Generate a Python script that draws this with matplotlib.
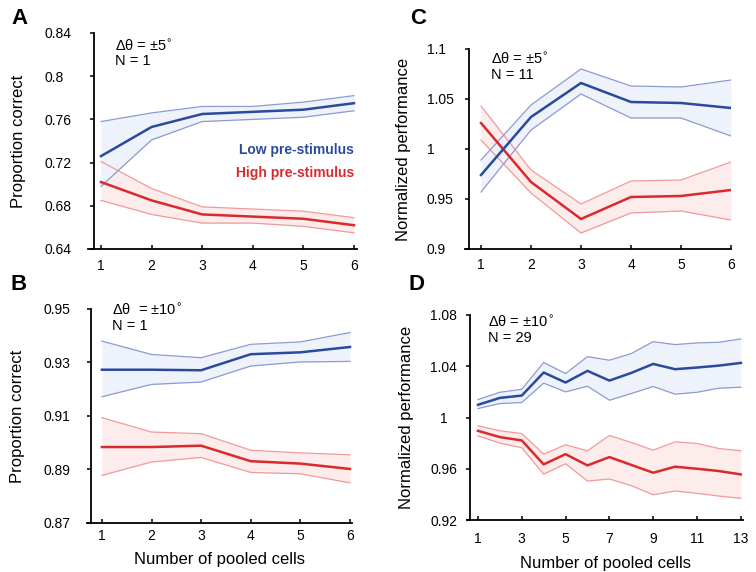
import numpy as np
import matplotlib
matplotlib.use("Agg")
import matplotlib.pyplot as plt

plt.rcParams['font.family'] = ['Liberation Sans', 'DejaVu Sans']

BLUE = '#2a4a9c'
RED = '#d92a2e'
BLUE_EDGE = '#8c9bd0'
RED_EDGE = '#f29a9a'
BLUE_FILL = '#eef2fa'
RED_FILL = '#fdecec'

# panel A: delta theta = +-5, N = 1
x_a = [1, 2, 3, 4, 5, 6]
a_low = [0.726, 0.753, 0.765, 0.767, 0.769, 0.775]
a_low_hi = [0.758, 0.766, 0.772, 0.772, 0.776, 0.782]
a_low_lo = [0.698, 0.741, 0.758, 0.760, 0.762, 0.768]
a_high = [0.702, 0.685, 0.672, 0.670, 0.668, 0.662]
a_high_hi = [0.721, 0.696, 0.679, 0.677, 0.675, 0.669]
a_high_lo = [0.685, 0.672, 0.664, 0.664, 0.661, 0.655]

# panel B: delta theta = +-10, N = 1
x_b = [1, 2, 3, 4, 5, 6]
b_low = [0.9273, 0.9273, 0.9271, 0.9331, 0.9338, 0.9358]
b_low_hi = [0.9380, 0.9330, 0.9318, 0.9368, 0.9377, 0.9412]
b_low_lo = [0.9172, 0.9218, 0.9227, 0.9287, 0.9302, 0.9304]
b_high = [0.8984, 0.8984, 0.8989, 0.8931, 0.8922, 0.8902]
b_high_hi = [0.9094, 0.9040, 0.9034, 0.8972, 0.8962, 0.8955]
b_high_lo = [0.8878, 0.8928, 0.8945, 0.8889, 0.8884, 0.8850]

# panel C: delta theta = +-5, N = 11
x_c = [1, 2, 3, 4, 5, 6]
c_low = [0.974, 1.032, 1.066, 1.047, 1.046, 1.041]
c_low_hi = [0.989, 1.044, 1.080, 1.063, 1.062, 1.069]
c_low_lo = [0.957, 1.019, 1.055, 1.031, 1.031, 1.013]
c_high = [1.026, 0.967, 0.930, 0.952, 0.953, 0.959]
c_high_hi = [1.043, 0.979, 0.945, 0.968, 0.969, 0.987]
c_high_lo = [1.009, 0.956, 0.916, 0.936, 0.938, 0.929]

# panel D: delta theta = +-10, N = 29
x_d = list(range(1, 14))
d_low = [1.0099, 1.0153, 1.0171, 1.0351, 1.0273, 1.0364, 1.0288, 1.0348, 1.0418, 1.0377, 1.0390, 1.0405, 1.0426]
d_low_hi = [1.0140, 1.0197, 1.0220, 1.0429, 1.0343, 1.0475, 1.0447, 1.0499, 1.0592, 1.0569, 1.0582, 1.0587, 1.0613]
d_low_lo = [1.0070, 1.0109, 1.0117, 1.0268, 1.0200, 1.0244, 1.0135, 1.0187, 1.0242, 1.0182, 1.0197, 1.0229, 1.0236]
d_high = [0.9896, 0.9847, 0.9821, 0.9634, 0.9714, 0.9626, 0.9691, 0.9630, 0.9569, 0.9616, 0.9600, 0.9582, 0.9556]
d_high_hi = [0.9935, 0.9896, 0.9875, 0.9714, 0.9787, 0.9740, 0.9860, 0.9805, 0.9745, 0.9810, 0.9797, 0.9758, 0.9740]
d_high_lo = [0.9857, 0.9800, 0.9764, 0.9558, 0.9639, 0.9504, 0.9520, 0.9468, 0.9397, 0.9426, 0.9408, 0.9387, 0.9369]

W, H = 756, 572
fig = plt.figure(figsize=(W / 100, H / 100), dpi=100)


def make_axes(l, r, t, b):
    return fig.add_axes([l / W, 1 - b / H, (r - l) / W, (b - t) / H])


def band(ax, x, mid, hi, lo, col, edge, fill):
    ax.fill_between(x, lo, hi, color=fill, lw=0, zorder=1)
    ax.plot(x, hi, color=edge, lw=0.9, zorder=2)
    ax.plot(x, lo, color=edge, lw=0.9, zorder=2)
    ax.plot(x, mid, color=col, lw=1.8, zorder=3)


panels = [
    dict(box=(88, 357, 33, 249), x=x_a, low=(a_low, a_low_hi, a_low_lo), high=(a_high, a_high_hi, a_high_lo),
         xlim=(0.743, 6.06), spine=0.862, ylim=(0.64, 0.84),
         yticks=[0.64, 0.68, 0.72, 0.76, 0.8, 0.84], ylab=['0.64', '0.68', '0.72', '0.76', '0.8', '0.84'],
         yha='left', ypad=33, xpad=7, ylpad=13,
         xticks=[1, 2, 3, 4, 5, 6], ylabel='Proportion correct', xlabel=None,
         note='Δθ = ±5$^{\\circ}$\nN = 1', note_xy=(0.10, 0.975), letter='A', letter_xy=(11, 8)),
    dict(box=(87, 352, 309, 523), x=x_b, low=(b_low, b_low_hi, b_low_lo), high=(b_high, b_high_hi, b_high_lo),
         xlim=(0.70, 6.04), spine=0.78, ylim=(0.87, 0.95),
         yticks=[0.87, 0.89, 0.91, 0.93, 0.95], ylab=['0.87', '0.89', '0.91', '0.93', '0.95'],
         yha='left', ypad=31.5, xpad=4, ylpad=13,
         xticks=[1, 2, 3, 4, 5, 6], ylabel='Proportion correct', xlabel='Number of pooled cells',
         note='Δθ  = ±10$^{\\circ}$\nN = 1', note_xy=(0.094, 1.028), letter='B', letter_xy=(11, 274)),
    dict(box=(465, 731, 49, 249), x=x_c, low=(c_low, c_low_hi, c_low_lo), high=(c_high, c_high_hi, c_high_lo),
         xlim=(0.68, 6.0), spine=0.76, ylim=(0.9, 1.1),
         yticks=[0.9, 0.95, 1.0, 1.05, 1.1], ylab=['0.9', '0.95', '1', '1.05', '1.1'],
         yha='left', ypad=27.5, xpad=6.5, ylpad=11.5,
         xticks=[1, 2, 3, 4, 5, 6], ylabel='Normalized performance', xlabel=None,
         note='Δθ = ±5$^{\\circ}$\nN = 11', note_xy=(0.098, 0.985), letter='C', letter_xy=(410, 8)),
    dict(box=(467, 743, 315, 520), x=x_d, low=(d_low, d_low_hi, d_low_lo), high=(d_high, d_high_hi, d_high_lo),
         xlim=(0.5, 13.1), spine=0.636, ylim=(0.92, 1.08),
         yticks=[0.92, 0.96, 1.0, 1.04, 1.08], ylab=['0.92', '0.96', '1', '1.04', '1.08'],
         yha='center', ypad=16, xpad=8.6, ylpad=11.5,
         xticks=[1, 3, 5, 7, 9, 11, 13], ylabel='Normalized performance', xlabel='Number of pooled cells',
         note='Δθ = ±10$^{\\circ}$\nN = 29', note_xy=(0.076, 1.0), letter='D', letter_xy=(408, 274)),
]

for p in panels:
    ax = make_axes(*p['box'])
    band(ax, p['x'], *p['high'], RED, RED_EDGE, RED_FILL)
    band(ax, p['x'], *p['low'], BLUE, BLUE_EDGE, BLUE_FILL)

    ax.set_xlim(*p['xlim'])
    ax.set_ylim(*p['ylim'])
    ax.spines['top'].set_visible(False)
    ax.spines['right'].set_visible(False)
    ax.spines['left'].set_position(('data', p['spine']))
    for s in ['left', 'bottom']:
        ax.spines[s].set_linewidth(1.3)
    ax.set_yticks(p['yticks'])
    ax.set_yticklabels(p['ylab'], ha=p['yha'])
    ax.set_xticks(p['xticks'])
    ax.tick_params(axis='y', direction='out', length=3, width=1.1, labelsize=10, pad=p['ypad'])
    ax.tick_params(axis='x', direction='in', length=3, width=1.1, labelsize=10, pad=p['xpad'])

    ax.set_ylabel(p['ylabel'], fontsize=12, labelpad=p['ylpad'])
    if p['xlabel']:
        ax.set_xlabel(p['xlabel'], fontsize=12, labelpad=7)
    ax.text(*p['note_xy'], p['note'], transform=ax.transAxes, fontsize=10.5,
            va='top', ha='left', linespacing=1.05)
    fig.text(p['letter_xy'][0] / W, 1 - p['letter_xy'][1] / H, p['letter'],
             fontsize=16, fontweight='bold', va='top', ha='left')
    if p['letter'] == 'A':
        ax.text(6.0, 0.7315, 'Low pre-stimulus', color=BLUE, fontsize=10,
                fontweight='bold', ha='right', va='center')
        ax.text(6.0, 0.710, 'High pre-stimulus', color=RED, fontsize=10,
                fontweight='bold', ha='right', va='center')

fig.savefig('out.png', dpi=100)
